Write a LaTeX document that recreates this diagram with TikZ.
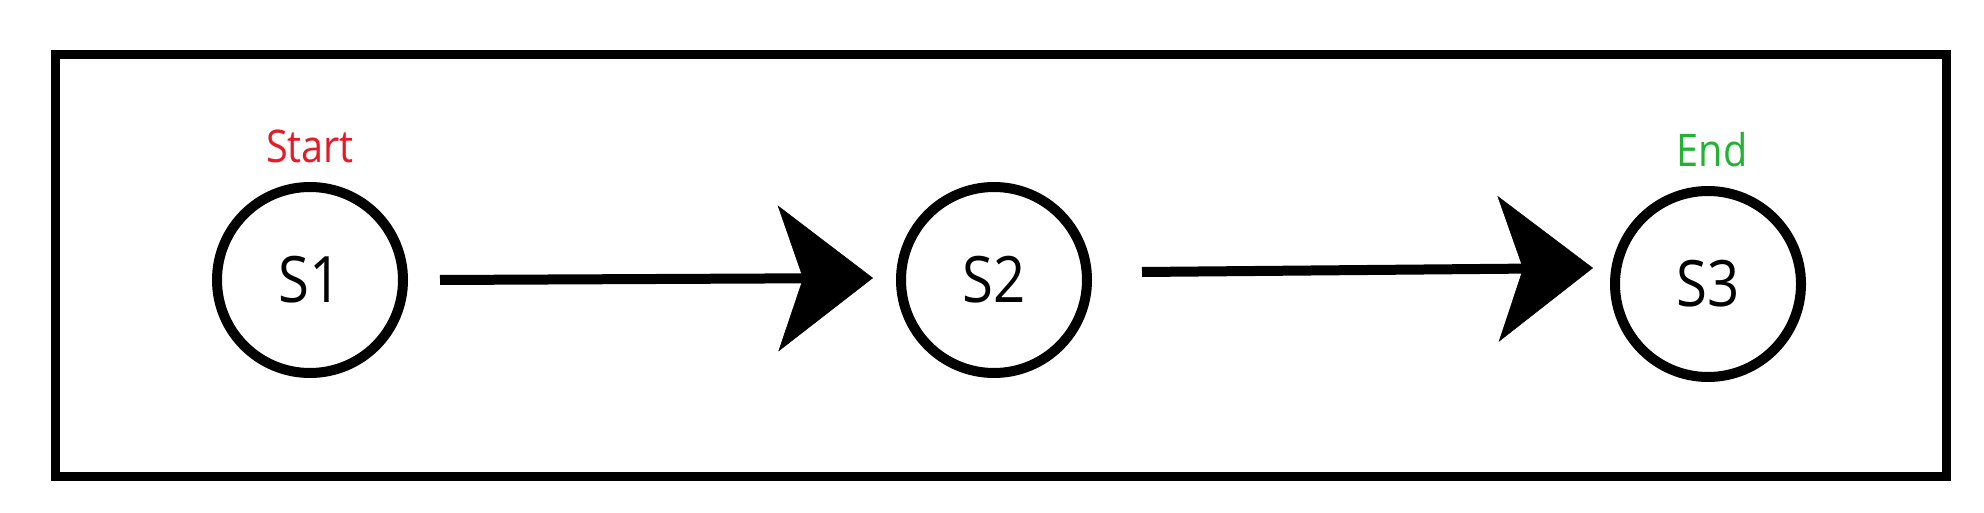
\documentclass[tikz,border=0pt]{standalone}
\usepackage{fontspec}
\setmainfont{Open Sans}
\usetikzlibrary{arrows.meta}
\definecolor{startred}{RGB}{226,28,40}
\definecolor{endgreen}{RGB}{34,178,52}
\tikzset{
  state/.style={circle, draw=black, line width=10pt, minimum size=186pt, inner sep=0pt, font=\fontsize{64}{64}\selectfont},
  tag/.style={inner sep=0pt, font=\fontsize{45}{45}\selectfont},
  arr/.style={line width=10pt, draw=black, -{Stealth[length=95pt,width=146pt,inset=25pt,line width=0.5pt]}},
  frame/.style={draw=black, line width=9pt}
}
\newcommand{\nar}[1]{\scalebox{0.88}[1]{#1}}
\begin{document}
\begin{tikzpicture}[x=1pt,y=-1pt]
\useasboundingbox (0,0) rectangle (1984,513);
\draw[frame] (55,55) rectangle (1946,476);
\node[state] (s1) at (310,280) {\nar{S1}};
\node[state] (s2) at (994,280) {\nar{S2}};
\node[state] (s3) at (1708,284) {\nar{S3}};
\node[tag, text=startred] (start) at (310,146) {\nar{Start}};
\node[tag, text=endgreen] (end) at (1712,150) {\nar{End}};
\draw[arr] ([xshift=32pt]s1.east) -- ([xshift=-23pt,yshift=2pt]s2.west);
\draw[arr] ([xshift=50pt,yshift=8pt]s2.east) -- ([xshift=-17pt,yshift=16pt]s3.west);
\end{tikzpicture}
\end{document}
